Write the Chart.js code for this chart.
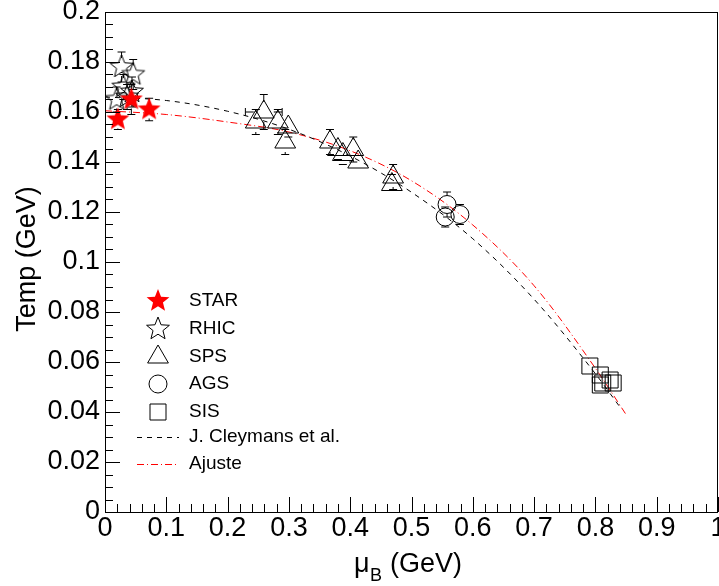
<!DOCTYPE html>
<html>
<head>
<meta charset="utf-8">
<script src="https://cdn.jsdelivr.net/npm/chart.js@4"></script>
<style>
  html, body { margin: 0; padding: 0; background: #fff; overflow: hidden; }
  canvas { display: block; }
</style>
</head>
<body>
<canvas id="fig" width="719" height="586"></canvas>
<script>
// data
const starX = [0.021, 0.043, 0.072];
const starY = [0.157, 0.165, 0.161];
const starErr = [0.004, 0.006, 0.0045];

const rhicX = [0.027, 0.046, 0.030, 0.044, 0.036, 0.019];
const rhicY = [0.178, 0.175, 0.170, 0.168, 0.166, 0.165];
const rhicErr = [0.006, 0.006, 0.005, 0.006, 0.005, 0.005];

const spsX = [0.259, 0.246, 0.282, 0.299, 0.294, 0.367, 0.380, 0.388, 0.405, 0.413, 0.470, 0.468];
const spsY = [0.160, 0.156, 0.156, 0.154, 0.148, 0.148, 0.145, 0.143, 0.145, 0.140, 0.134, 0.131];
const spsErr = [0.007, 0.005, 0.005, 0.004, 0.005, 0.005, 0.004, 0.004, 0.005, 0.004, 0.005, 0.004];
const spsXErr = [0.03, 0.01, 0.005, 0.005, 0.008, 0.015, 0.006, 0.01, 0.012, 0.005, 0.008, 0.005];

const agsX = [0.558, 0.555, 0.579];
const agsY = [0.123, 0.118, 0.119];
const agsErr = [0.005, 0.004, 0.004];

const sisX = [0.791, 0.808, 0.824, 0.812, 0.829, 0.808];
const sisY = [0.0584, 0.0548, 0.0528, 0.0516, 0.0516, 0.0508];
const sisErr = [0.003, 0.003, 0.002, 0.002, 0.002, 0.002];

const cleyX = [0, 0.1, 0.2, 0.3, 0.4, 0.5, 0.6, 0.7, 0.8, 0.84];
const cleyY = [0.166, 0.1646, 0.1603, 0.1531, 0.1424, 0.1279, 0.1093, 0.0851, 0.0553, 0.042];

const fitX = [0, 0.1, 0.2, 0.3, 0.4, 0.5, 0.6, 0.7, 0.8, 0.85];
const fitY = [0.1605, 0.159, 0.156, 0.152, 0.1445, 0.1325, 0.1148, 0.0905, 0.0575, 0.039];

const xTicks = [0, 0.1, 0.2, 0.3, 0.4, 0.5, 0.6, 0.7, 0.8, 0.9, 1];
const xTickLabels = ["0", "0.1", "0.2", "0.3", "0.4", "0.5", "0.6", "0.7", "0.8", "0.9", "1"];
const yTicks = [0, 0.02, 0.04, 0.06, 0.08, 0.1, 0.12, 0.14, 0.16, 0.18, 0.2];
const yTickLabels = ["0", "0.02", "0.04", "0.06", "0.08", "0.1", "0.12", "0.14", "0.16", "0.18", "0.2"];

const FONT = '"Liberation Sans", Arial, sans-serif';

function pts(xs, ys) { return xs.map((x, i) => ({ x: x, y: ys[i] })); }

// 5 point star as an image marker
function starMarker(fill, stroke, R, r) {
  const c = document.createElement('canvas');
  const s = Math.ceil(2 * R + 4);
  c.width = s; c.height = s;
  const g = c.getContext('2d');
  g.beginPath();
  for (let i = 0; i < 10; i++) {
    const rad = i % 2 ? r : R;
    const a = -Math.PI / 2 + i * Math.PI / 5;
    const px = s / 2 + rad * Math.cos(a), py = s / 2 + rad * Math.sin(a);
    if (i === 0) g.moveTo(px, py); else g.lineTo(px, py);
  }
  g.closePath();
  if (fill) { g.fillStyle = fill; g.fill(); }
  if (stroke) { g.strokeStyle = stroke; g.lineWidth = 1; g.stroke(); }
  return c;
}
const redStar = starMarker('#ff0000', null, 12, 5.2);
const openStar = starMarker(null, '#000', 12, 5.2);

const errs = {
  0: { y: starErr, gap: 9 },
  1: { y: rhicErr, gap: 9 },
  2: { y: spsErr, x: spsXErr, gap: 10 },
  3: { y: agsErr, gap: 9 },
  4: { y: sisErr, gap: 8 }
};

const errorBars = {
  id: 'errorBars',
  beforeDatasetsDraw(chart) {
    const ctx = chart.ctx, xs = chart.scales.x, ys = chart.scales.y;
    ctx.save();
    ctx.strokeStyle = '#000';
    ctx.lineWidth = 1;
    Object.keys(errs).forEach(k => {
      const e = errs[k];
      chart.data.datasets[k].data.forEach((p, i) => {
        const px = xs.getPixelForValue(p.x), py = ys.getPixelForValue(p.y);
        const top = ys.getPixelForValue(p.y + e.y[i]);
        const bot = ys.getPixelForValue(p.y - e.y[i]);
        ctx.beginPath();
        if (py - top > e.gap) {
          ctx.moveTo(px, py - e.gap); ctx.lineTo(px, top);
          ctx.moveTo(px - 4, top); ctx.lineTo(px + 4, top);
        }
        if (bot - py > e.gap) {
          ctx.moveTo(px, py + e.gap); ctx.lineTo(px, bot);
          ctx.moveTo(px - 4, bot); ctx.lineTo(px + 4, bot);
        }
        if (e.x) {
          const l = xs.getPixelForValue(p.x - e.x[i]);
          const r = xs.getPixelForValue(p.x + e.x[i]);
          if (px - l > e.gap) {
            ctx.moveTo(px - e.gap, py); ctx.lineTo(l, py);
            ctx.moveTo(l, py - 4); ctx.lineTo(l, py + 4);
          }
          if (r - px > e.gap) {
            ctx.moveTo(px + e.gap, py); ctx.lineTo(r, py);
            ctx.moveTo(r, py - 4); ctx.lineTo(r, py + 4);
          }
        }
        ctx.stroke();
      });
    });
    ctx.restore();
  }
};

// ROOT style frame, inward ticks, labels, titles and legend
const rootFrame = {
  id: 'rootFrame',
  afterDraw(chart) {
    const ctx = chart.ctx, a = chart.chartArea;
    const xs = chart.scales.x, ys = chart.scales.y;
    ctx.save();
    ctx.strokeStyle = '#000';
    ctx.lineWidth = 1;
    ctx.strokeRect(a.left + 0.5, a.top + 0.5, a.right - a.left - 1, a.bottom - a.top);
    ctx.beginPath();
    for (let v = 0; v <= 1.0001; v += 0.02) {
      const px = Math.round(xs.getPixelForValue(v)) + 0.5;
      const major = Math.abs(v * 10 - Math.round(v * 10)) < 1e-6;
      ctx.moveTo(px, a.bottom); ctx.lineTo(px, a.bottom - (major ? 15 : 8));
    }
    for (let v = 0; v <= 0.2001; v += 0.005) {
      const py = Math.round(ys.getPixelForValue(v)) + 0.5;
      const major = Math.abs(v * 50 - Math.round(v * 50)) < 1e-6;
      ctx.moveTo(a.left, py); ctx.lineTo(a.left + (major ? 15 : 8), py);
    }
    ctx.stroke();

    ctx.fillStyle = '#000';
    ctx.font = '27px ' + FONT;
    ctx.textAlign = 'center';
    ctx.textBaseline = 'top';
    xTicks.forEach((v, i) => ctx.fillText(xTickLabels[i], xs.getPixelForValue(v), a.bottom + 3));
    ctx.textAlign = 'right';
    ctx.textBaseline = 'middle';
    yTicks.forEach((v, i) => ctx.fillText(yTickLabels[i], a.left - 5, ys.getPixelForValue(v)));

    // axis titles
    ctx.save();
    ctx.translate(28, 259);
    ctx.rotate(-Math.PI / 2);
    ctx.textAlign = 'center';
    ctx.textBaseline = 'middle';
    ctx.fillText('Temp (GeV)', 0, 0);
    ctx.restore();

    ctx.textAlign = 'left';
    ctx.textBaseline = 'alphabetic';
    ctx.fillText('\u03bc', 354, 572);
    ctx.font = '18px ' + FONT;
    ctx.fillText('B', 370, 581);
    ctx.font = '27px ' + FONT;
    ctx.fillText('(GeV)', 390, 572);

    // legend
    const lx = 158, tx = 189;
    const rows = [301, 329, 357, 384, 412, 437, 464];
    const names = ['STAR', 'RHIC', 'SPS', 'AGS', 'SIS', 'J. Cleymans et al.', 'Ajuste'];
    ctx.font = '19px ' + FONT;
    ctx.textBaseline = 'middle';
    names.forEach((n, i) => ctx.fillText(n, tx, rows[i]));
    ctx.drawImage(redStar, lx - redStar.width / 2, rows[0] - redStar.height / 2);
    ctx.drawImage(openStar, lx - openStar.width / 2, rows[1] - openStar.height / 2);
    ctx.beginPath();
    ctx.moveTo(lx, rows[2] - 12); ctx.lineTo(lx + 10.4, rows[2] + 6); ctx.lineTo(lx - 10.4, rows[2] + 6); ctx.closePath();
    ctx.moveTo(lx + 9, rows[3]); ctx.arc(lx, rows[3], 9, 0, Math.PI * 2);
    ctx.rect(lx - 8, rows[4] - 8, 16, 16);
    ctx.stroke();
    ctx.beginPath();
    ctx.setLineDash([5, 5]);
    ctx.moveTo(137, rows[5] + 0.5); ctx.lineTo(179, rows[5] + 0.5);
    ctx.stroke();
    ctx.beginPath();
    ctx.strokeStyle = '#ff0000';
    ctx.setLineDash([7, 3, 1, 3]);
    ctx.moveTo(137, rows[6] + 0.5); ctx.lineTo(179, rows[6] + 0.5);
    ctx.stroke();
    ctx.restore();
  }
};

const marker = (style, r) => ({
  type: 'scatter', pointStyle: style, pointRadius: r, pointHoverRadius: r,
  pointBorderColor: '#000', pointBackgroundColor: 'rgba(0,0,0,0)', pointBorderWidth: 1
});

new Chart(document.getElementById('fig'), {
  type: 'scatter',
  data: {
    datasets: [
      Object.assign(marker(redStar, 12), { label: 'STAR', data: pts(starX, starY) }),
      Object.assign(marker(openStar, 12), { label: 'RHIC', data: pts(rhicX, rhicY) }),
      Object.assign(marker('triangle', 12), { label: 'SPS', data: pts(spsX, spsY) }),
      Object.assign(marker('circle', 9), { label: 'AGS', data: pts(agsX, agsY) }),
      Object.assign(marker('rect', 11.3), { label: 'SIS', data: pts(sisX, sisY) }),
      {
        type: 'line', label: 'J. Cleymans et al.', data: pts(cleyX, cleyY),
        borderColor: '#000', borderWidth: 1, borderDash: [5, 5],
        pointRadius: 0, cubicInterpolationMode: 'monotone', fill: false
      },
      {
        type: 'line', label: 'Ajuste', data: pts(fitX, fitY),
        borderColor: '#ff0000', borderWidth: 1, borderDash: [7, 3, 1, 3],
        pointRadius: 0, cubicInterpolationMode: 'monotone', fill: false
      }
    ]
  },
  options: {
    responsive: false,
    animation: false,
    layout: { autoPadding: false, padding: { left: 105, right: 1, top: 12, bottom: 74 } },
    plugins: { legend: { display: false }, tooltip: { enabled: false } },
    scales: {
      x: { type: 'linear', min: 0, max: 1, display: false },
      y: { type: 'linear', min: 0, max: 0.2, display: false }
    }
  },
  plugins: [errorBars, rootFrame]
});
</script>
</body>
</html>
